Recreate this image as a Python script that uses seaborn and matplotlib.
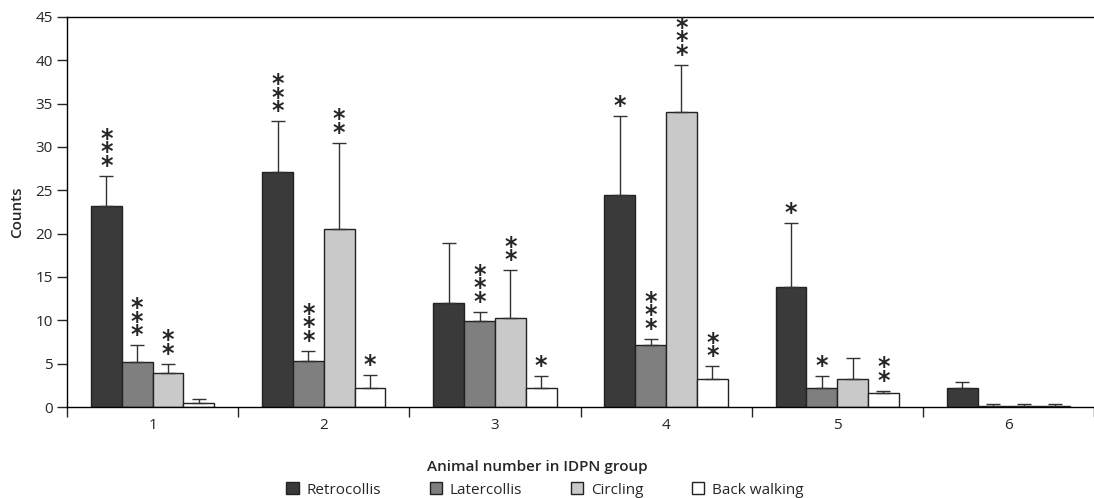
import numpy as np
import pandas as pd
import seaborn as sns
import matplotlib.pyplot as plt
from matplotlib.patches import Patch

# Data
animals = ['1', '2', '3', '4', '5', '6']
behaviours = ['Retrocollis', 'Latercollis', 'Circling', 'Back walking']
colours = ['#3a3a3a', '#7f7f7f', '#c9c9c9', '#ffffff']

retrocollis = [23.2, 27.1, 12.0, 24.5, 13.85, 2.15]
latercollis = [5.2, 5.3, 9.9, 7.15, 2.15, 0.15]
circling = [3.9, 20.5, 10.3, 34.0, 3.2, 0.15]
back_walking = [0.5, 2.2, 2.2, 3.2, 1.65, 0.15]

# upper error (SEM) for each bar
err_retrocollis = [3.5, 5.9, 6.9, 9.1, 7.35, 0.75]
err_latercollis = [1.95, 1.2, 1.1, 0.75, 1.45, 0.15]
err_circling = [1.1, 10.0, 5.5, 5.5, 2.4, 0.15]
err_back_walking = [0.42, 1.5, 1.4, 1.5, 0.25, 0.15]

# significance stars
stars_retrocollis = ['***', '***', '', '*', '*', '']
stars_latercollis = ['***', '***', '***', '***', '*', '']
stars_circling = ['**', '**', '**', '***', '', '']
stars_back_walking = ['', '*', '*', '**', '**', '']

errors = [err_retrocollis, err_latercollis, err_circling, err_back_walking]
stars = [stars_retrocollis, stars_latercollis, stars_circling, stars_back_walking]

df = pd.DataFrame({
    'animal': animals * 4,
    'behaviour': [b for b in behaviours for _ in animals],
    'counts': retrocollis + latercollis + circling + back_walking,
})

sns.set_style('ticks')
plt.rcParams['font.family'] = ['Open Sans', 'DejaVu Sans']

fig = plt.figure(figsize=(10.94, 4.98), dpi=100)
ax = fig.add_axes([67 / 1094, 91 / 498, 1 - 67 / 1094, 390 / 498])

sns.barplot(data=df, x='animal', y='counts', hue='behaviour', order=animals,
            hue_order=behaviours, palette=colours, width=0.72, ax=ax,
            edgecolor='#222222', linewidth=1, errorbar=None, legend=False,
            saturation=1)

for cont, err, st in zip(ax.containers, errors, stars):
    xs = [p.get_x() + p.get_width() / 2 for p in cont]
    ys = [p.get_height() for p in cont]
    ax.errorbar(xs, ys, yerr=[np.zeros(len(err)), err], fmt='none',
                ecolor='#333333', elinewidth=1, capsize=5, capthick=1)
    for x, y, e, s in zip(xs, ys, err, st):
        if s:
            # one text per bar, stars stacked on separate lines
            ax.annotate('\n'.join(s), (x, y + e), xytext=(0, -1.5),
                        textcoords='offset points', ha='center', va='bottom',
                        fontsize=17, fontweight='bold', family='DejaVu Sans',
                        linespacing=0.45)

ax.set_ylim(0, 45)
ax.set_xlim(-0.5, 5.46)
ax.set_yticks(range(0, 46, 5))
ax.set_xticks(range(6), animals)
ax.set_xticks(np.arange(-0.5, 6, 1), minor=True)
ax.tick_params(axis='x', which='major', length=0, pad=8, labelsize=11)
ax.tick_params(axis='x', which='minor', length=7, width=1, direction='out')
ax.tick_params(axis='y', length=7, width=1, direction='out', labelsize=11, pad=3)

for side in ['left', 'bottom', 'top']:
    ax.spines[side].set_color('black')
    ax.spines[side].set_linewidth(1)
ax.spines['right'].set_visible(False)

ax.set_ylabel('Counts', fontsize=11, fontweight='semibold', labelpad=8)
ax.set_xlabel('Animal number in IDPN group', fontsize=11, fontweight='semibold')
ax.xaxis.set_label_coords((537 - 67) / 1027, -0.135)

handles = [Patch(facecolor=c, edgecolor='#222222', linewidth=1) for c in colours]
fig.legend(handles, behaviours, loc='center', ncol=4,
           bbox_to_anchor=(545 / 1094, 1 - 490 / 498), frameon=False,
           fontsize=11, handlelength=0.8, handleheight=0.8,
           handletextpad=0.5, columnspacing=3.2)

fig.savefig('out.png', dpi=100)
